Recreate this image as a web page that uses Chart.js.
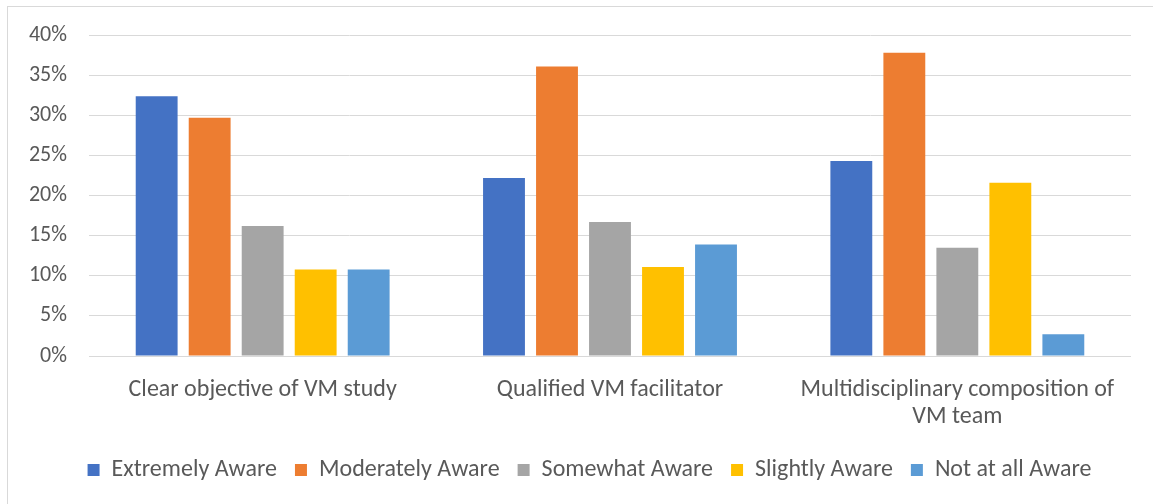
<!DOCTYPE html>
<html>
<head>
<meta charset="utf-8">
<script src="https://cdn.jsdelivr.net/npm/chart.js@4"></script>
<style>
  html, body { margin: 0; padding: 0; background: #fff; }
  #wrap { position: relative; width: 1153px; height: 504px; }
  #frame { position: absolute; left: 7px; top: 6px; width: 1160px; height: 520px;
           border: 1px solid #d9d9d9; box-sizing: border-box; }
  canvas { position: absolute; left: 0; top: 0; }
</style>
</head>
<body>
<div id="wrap">
  <div id="frame"></div>
  <canvas id="awareChart" width="1153" height="504"></canvas>
</div>
<script>
// chart data
const categories = [
  'Clear objective of VM study',
  'Qualified VM facilitator',
  ['Multidisciplinary composition of', 'VM team']
];
const seriesNames = ['Extremely Aware', 'Moderately Aware', 'Somewhat Aware', 'Slightly Aware', 'Not at all Aware'];
const extremely = [32.4, 22.2, 24.3];
const moderately = [29.7, 36.1, 37.8];
const somewhat = [16.2, 16.7, 13.5];
const slightly = [10.8, 11.1, 21.6];
const notAtAll = [10.8, 13.9, 2.7];
const yTicks = [0, 5, 10, 15, 20, 25, 30, 35, 40];

const colors = ['#4472C4', '#ED7D31', '#A5A5A5', '#FFC000', '#5B9BD5'];
const allSeries = [extremely, moderately, somewhat, slightly, notAtAll];

const fontFamily = 'Carlito, Calibri, "Liberation Sans", sans-serif';
Chart.defaults.font.family = fontFamily;
Chart.defaults.color = '#595959';

// nudge the legend a bit to the right and down, like the original
const legendShift = {
  id: 'legendShift',
  afterLayout(chart) {
    const lg = chart.legend;
    if (!lg) return;
    lg.left += 24; lg.right += 24;
    lg.top += 2; lg.bottom += 2;
  }
};

const ctx = document.getElementById('awareChart').getContext('2d');
new Chart(ctx, {
  type: 'bar',
  data: {
    labels: categories,
    datasets: allSeries.map((vals, i) => ({
      label: seriesNames[i],
      data: vals,
      backgroundColor: colors[i],
      borderWidth: 0,
      categoryPercentage: 0.763,
      barPercentage: 0.79
    }))
  },
  options: {
    responsive: false,
    animation: false,
    layout: { padding: { top: 35, right: 22, bottom: 14, left: 0 } },
    plugins: {
      tooltip: { enabled: false },
      legend: {
        position: 'bottom',
        labels: {
          boxWidth: 12,
          boxHeight: 12,
          padding: 18,
          font: { size: 24 },
          color: '#595959'
        }
      }
    },
    scales: {
      x: {
        grid: { display: false },
        border: { display: false },
        ticks: { font: { size: 24, lineHeight: 1.13 }, padding: 12, maxRotation: 0, autoSkip: false },
        afterFit: s => { s.height = 82; }
      },
      y: {
        min: 0,
        max: 40,
        afterBuildTicks: s => { s.ticks = yTicks.map(v => ({ value: v })); },
        ticks: { font: { size: 22 }, padding: 22, callback: v => v + '%' },
        grid: { color: '#d9d9d9', lineWidth: 1, drawTicks: false },
        border: { display: false },
        afterFit: s => { s.width = 89; }
      }
    }
  },
  plugins: [legendShift]
});
</script>
</body>
</html>
